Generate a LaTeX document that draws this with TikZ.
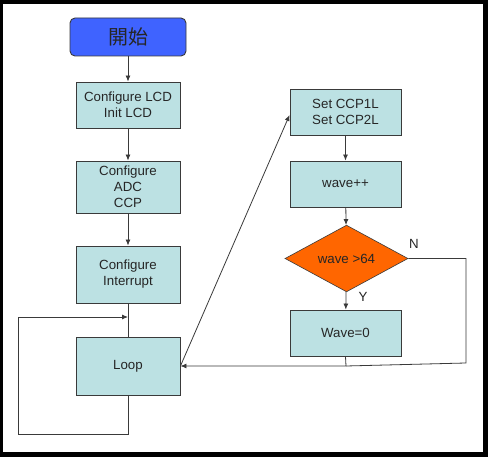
\documentclass[tikz,border=0pt]{standalone}
\usepackage{fontspec}
\setmainfont{Liberation Sans}
\newfontfamily\cjk{Noto Sans CJK TC}
\usetikzlibrary{shapes.geometric,arrows.meta,calc}
\definecolor{boxfill}{HTML}{BCE1E3}
\definecolor{startfill}{HTML}{3F63FF}
\definecolor{decfill}{HTML}{FF6600}
\definecolor{edge}{HTML}{3A3A3A}
\begin{document}
\begin{tikzpicture}[x=1pt,y=-1pt,
  proc/.style={draw=edge,line width=0.9pt,fill=boxfill,align=center,inner sep=0pt,
    font=\fontsize{13.3}{16}\selectfont,text=black!85},
  startbox/.style={draw=edge,line width=0.9pt,fill=startfill,rounded corners=5pt,inner sep=0pt,
    font=\cjk\fontsize{20}{24}\selectfont,text=black!85},
  decbox/.style={draw=edge,line width=0.6pt,fill=decfill,shape=diamond,inner sep=0pt,
    font=\fontsize{13.3}{16}\selectfont,text=black!85},
  conn/.style={draw=edge,line width=0.8pt},
  arr/.style={conn,-{Latex[length=6pt,width=5pt]}},
  lbl/.style={font=\fontsize{13.3}{16}\selectfont,text=black!85,inner sep=0pt}]
\fill[black] (0,0) rectangle (488,457);
\fill[white] (3,4) rectangle (483,452);
\useasboundingbox (0,0) rectangle (488,457);

\node[startbox,minimum width=116pt,minimum height=38pt] (start) at (128,37) {開始};
\node[proc,minimum width=104pt,minimum height=46pt] (lcd) at (128,105) {Configure LCD\\Init LCD};
\node[proc,minimum width=104pt,minimum height=52pt] (adc) at (128,187) {Configure\\ADC\\CCP};
\node[proc,minimum width=104pt,minimum height=57pt] (intr) at (128,274.5) {Configure\\Interrupt};
\node[proc,minimum width=104pt,minimum height=58pt] (loop) at (128,366) {Loop};

\node[proc,minimum width=111pt,minimum height=46pt] (ccp) at (345.5,112) {Set CCP1L\\Set CCP2L};
\node[proc,minimum width=111pt,minimum height=46pt] (inc) at (345.5,184) {wave++};
\node[decbox,minimum width=123pt,minimum height=65pt] (dec) at (346.5,258.5) {wave >64};
\node[proc,minimum width=111pt,minimum height=46pt] (zero) at (345.5,333) {Wave=0};

\node[lbl] (nlab) at (414,244) {N};
\node[lbl] (ylab) at (363,297) {Y};

\coordinate (j1) at (128,317);
\coordinate (lb) at (128,434);
\coordinate (j2) at (346,366);
\coordinate (nr) at (466,363);

\draw[arr] (start) -- (lcd);
\draw[arr] (lcd) -- (adc);
\draw[arr] (adc) -- (intr);
\draw[conn] (intr) -- (loop);
\draw[arr] (loop.south) -- (lb) -| (18,317) -- (j1);
\draw[arr] (loop.east) -- ($(ccp.west)+(0,3)$);
\draw[arr] (ccp) -- (inc);
\draw[arr] (inc) -- (dec);
\draw[arr] (dec) -- (zero);
\draw[conn] (dec.east) -| (nr) -- (j2);
\draw[arr] (zero.south) -- (j2) -- (loop.east);
\end{tikzpicture}
\end{document}
